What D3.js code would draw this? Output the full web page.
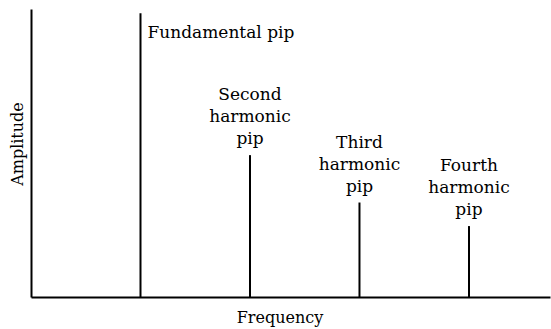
<!DOCTYPE html>
<html>
<head>
<meta charset="utf-8">
<script src="https://cdn.jsdelivr.net/npm/d3@7"></script>
<style>
  body { margin: 0; background: #fff; }
</style>
</head>
<body>
<svg width="551" height="329"></svg>
<script>
// harmonic number and relative amplitude of each pip
let harmonics = [1, 2, 3, 4];
let amplitudes = [100, 50, 33.3, 25];
let pipLabels = [
    ['Fundamental pip'],
    ['Second', 'harmonic', 'pip'],
    ['Third', 'harmonic', 'pip'],
    ['Fourth', 'harmonic', 'pip']
];

let svg = d3.select('svg'),
    width = +svg.attr('width'),
    height = +svg.attr('height');

let serif = "'DejaVu Serif', serif";
let margin = {left: 31, right: 1, top: 9, bottom: 32};

let x = d3.scaleLinear()
    .domain([0, 4.74])
    .range([margin.left, width - margin.right]);

let y = d3.scaleLinear()
    .domain([0, 101.5])
    .range([height - margin.bottom, margin.top]);

let fontSize = 17;

// axes: plain lines, no ticks
svg.append('g')
    .attr('transform', `translate(0,${y(0)})`)
    .call(d3.axisBottom(x).ticks(0).tickSize(0))
    .call(g => g.select('.domain').attr('stroke', '#000').attr('stroke-width', 2));

svg.append('g')
    .attr('transform', `translate(${x(0)},0)`)
    .call(d3.axisLeft(y).ticks(0).tickSize(0))
    .call(g => g.select('.domain').attr('stroke', '#000').attr('stroke-width', 2));

let data = harmonics.map((h, i) => ({h: h, a: amplitudes[i], label: pipLabels[i]}));

svg.append('g')
    .selectAll('line')
    .data(data)
    .enter().append('line')
    .attr('x1', d => x(d.h))
    .attr('x2', d => x(d.h))
    .attr('y1', y(0))
    .attr('y2', d => y(d.a))
    .attr('stroke', '#000')
    .attr('stroke-width', 2);

let labels = svg.append('g')
    .selectAll('text')
    .data(data)
    .enter().append('text')
    .style('font-family', serif)
    .attr('font-size', fontSize)
    .attr('text-anchor', d => d.label.length === 1 ? 'start' : 'middle');

labels.each(function (d) {
    let t = d3.select(this);
    let n = d.label.length;
    if (n === 1) {
        t.append('tspan')
            .attr('x', x(d.h) + 7)
            .attr('y', y(d.a) + 25)
            .text(d.label[0]);
    } else {
        d.label.forEach((s, k) => {
            t.append('tspan')
                .attr('x', x(d.h))
                .attr('y', y(d.a) - 11 - (n - 1 - k) * 22)
                .text(s);
        });
    }
});

svg.append('text')
    .style('font-family', serif)
    .attr('font-size', fontSize - 1)
    .attr('text-anchor', 'middle')
    .attr('x', 280)
    .attr('y', height - 6)
    .text('Frequency');

svg.append('text')
    .style('font-family', serif)
    .attr('font-size', fontSize - 1)
    .attr('text-anchor', 'middle')
    .attr('transform', 'translate(23,144) rotate(-90)')
    .text('Amplitude');
</script>
</body>
</html>
